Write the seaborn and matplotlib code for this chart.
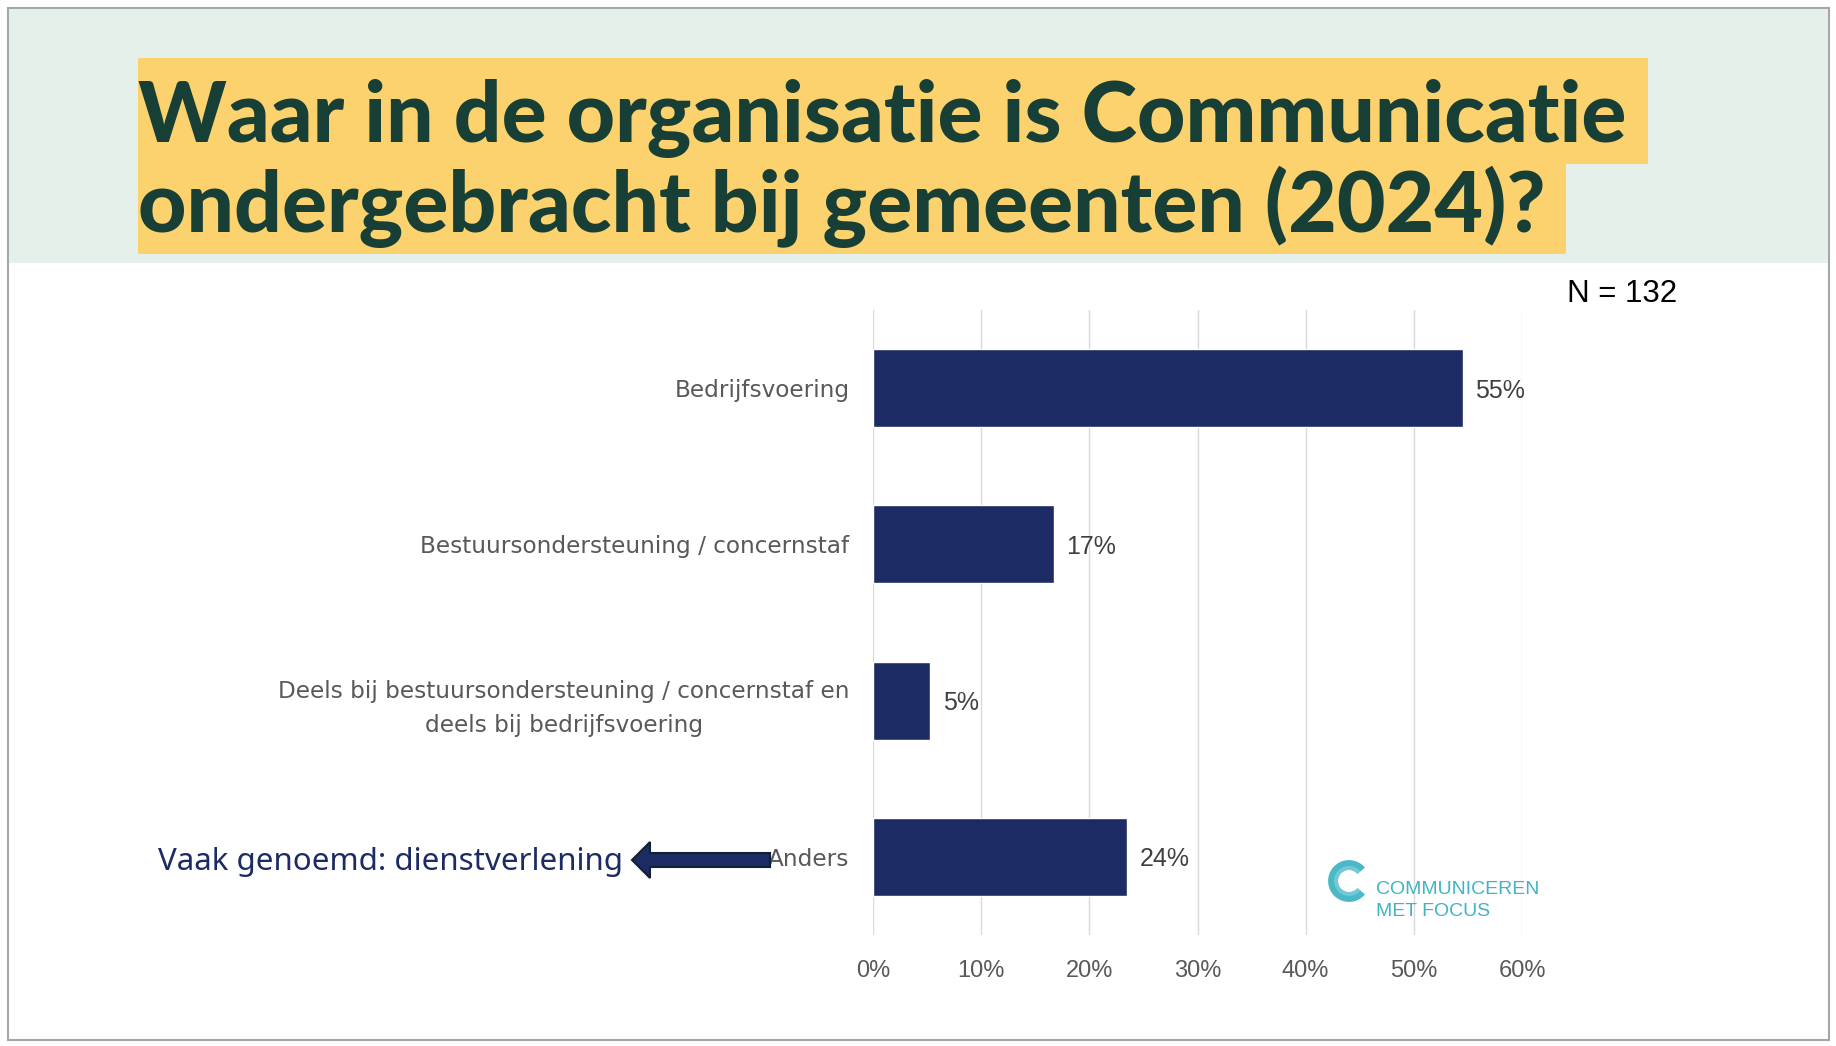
import numpy as np
import pandas as pd
import matplotlib
matplotlib.use("Agg")
import matplotlib.pyplot as plt
import seaborn as sns
from matplotlib.patches import Rectangle, Wedge, FancyArrow

# data
categories = [
    "Bedrijfsvoering",
    "Bestuursondersteuning / concernstaf",
    "Deels bij bestuursondersteuning / concernstaf en\ndeels bij bedrijfsvoering",
    "Anders",
]
values = [54.5, 16.7, 5.3, 23.5]
value_labels = ["55%", "17%", "5%", "24%"]
x_ticks = [0, 10, 20, 30, 40, 50, 60]
title_lines = ["Waar in de organisatie is Communicatie", "ondergebracht bij gemeenten (2024)?"]
n_text = "N = 132"
note_text = "Vaak genoemd: dienstverlening"

W, H = 1836, 1046
sns.set_style("white")
plt.rcParams["font.family"] = ["Open Sans", "DejaVu Sans"]

fig = plt.figure(figsize=(W / 100, H / 100), dpi=100)


def fx(px):
    return px / W


def fy(py):
    return 1 - py / H


# outer frame + header band
fig.patches.append(Rectangle((fx(8), fy(1040)), fx(1821), (1032) / H, transform=fig.transFigure,
                             facecolor="none", edgecolor="#A6A6A6", lw=1.5, zorder=0))
fig.patches.append(Rectangle((fx(9), fy(263)), fx(1819), (254) / H, transform=fig.transFigure,
                             facecolor="#E6F0EA", edgecolor="none", zorder=1))
# yellow title boxes
fig.patches.append(Rectangle((fx(138), fy(164)), fx(1510), 106 / H, transform=fig.transFigure,
                             facecolor="#FCD26E", edgecolor="none", zorder=2))
fig.patches.append(Rectangle((fx(138), fy(254)), fx(1428), 91 / H, transform=fig.transFigure,
                             facecolor="#FCD26E", edgecolor="none", zorder=2))
fig.text(fx(138), fy(142), title_lines[0], fontsize=60.5, fontweight="black", family="Lato",
         color="#173F35", ha="left", va="baseline", zorder=3)
fig.text(fx(138), fy(232), title_lines[1], fontsize=60.5, fontweight="black", family="Lato",
         color="#173F35", ha="left", va="baseline", zorder=3)

# chart
ax = fig.add_axes([fx(873), fy(935), fx(649), 625 / H])
ax.set_zorder(4)
ax.patch.set_alpha(0)
df = pd.DataFrame({"categorie": categories, "waarde": values})
sns.barplot(data=df, x="waarde", y="categorie", orient="h", color="#1C2B64",
            width=0.5, saturation=1, ax=ax, zorder=3)
ax.set_xlim(0, 60)
ax.set_ylim(3.5, -0.5)
ax.set_xticks(x_ticks)
ax.set_xticklabels([f"{t}%" for t in x_ticks], family="Liberation Sans", fontsize=17, color="#595959")
ax.set_xlabel("")
ax.set_ylabel("")
for s in ax.spines.values():
    s.set_visible(False)
ax.grid(axis="x", color="#D9D9D9", lw=1, zorder=0)
ax.grid(axis="y", visible=False)
ax.set_axisbelow(True)
ax.tick_params(axis="both", length=0)
ax.tick_params(axis="y", pad=17)
ax.tick_params(axis="x", pad=18)
for lab in ax.get_yticklabels():
    lab.set_fontsize(16.7)
    lab.set_family("DejaVu Sans")
    lab.set_color("#595959")
    lab.set_multialignment("center")
    lab.set_linespacing(1.6)
txts = ax.bar_label(ax.containers[0], labels=value_labels, padding=9, fontsize=18,
                    family="Liberation Sans", color="#404040")
for t in txts:
    t.set_va("center_baseline")

# N label
fig.text(fx(1567), fy(294), n_text, fontsize=22.5, family="Liberation Sans", color="black",
         ha="left", va="center", zorder=5)

# note + arrow
fig.text(fx(158), fy(862), note_text, fontsize=22.5, color="#1C2B64", ha="left", va="center",
         family="Noto Sans", zorder=5)
fig.patches.append(FancyArrow(fx(770), fy(860), -(770 - 632) / W, 0, width=14 / H,
                              head_width=36 / H, head_length=18 / W, length_includes_head=True,
                              transform=fig.transFigure, facecolor="#1C2B64",
                              edgecolor="#0F2231", lw=1.5, zorder=6))

# logo
lax = fig.add_axes([fx(1327), fy(903), fx(44), 44 / H])
lax.set_zorder(5)
lax.set_xlim(-1, 1)
lax.set_ylim(-1, 1)
lax.set_aspect("equal")
lax.axis("off")
lax.add_patch(Wedge((0, 0), 0.95, 40, 320, width=0.45, facecolor="#4BB8C8", edgecolor="none"))
lax.add_patch(Wedge((0, 0), 0.68, 40, 320, width=0.18, facecolor="#8DD3DD", edgecolor="none", alpha=0.6))
fig.text(fx(1376), fy(890), "COMMUNICEREN", fontsize=14, family="Liberation Sans",
         color="#3FB4C6", ha="left", va="center", zorder=5)
fig.text(fx(1376), fy(912), "MET FOCUS", fontsize=14, family="Liberation Sans",
         color="#3FB4C6", ha="left", va="center", zorder=5)

fig.savefig("out.png", dpi=100)
